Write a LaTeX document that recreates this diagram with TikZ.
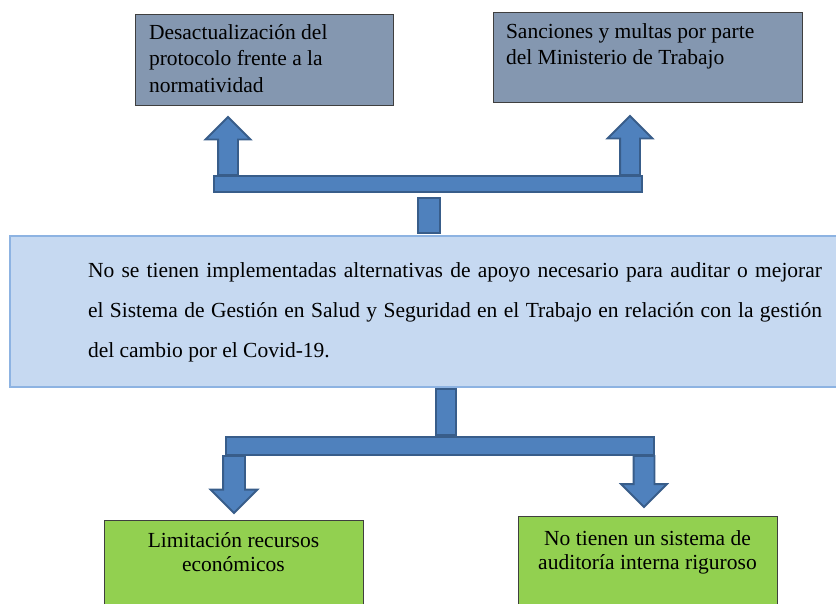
\documentclass[tikz,border=0pt]{standalone}
\usepackage{fontspec}
\setmainfont{Liberation Serif}
\usetikzlibrary{shapes.arrows}

\definecolor{arrowfill}{HTML}{4F81BD}
\definecolor{arrowline}{HTML}{385D8A}
\definecolor{causefill}{HTML}{8497B0}
\definecolor{mainfill}{HTML}{C6D9F1}
\definecolor{mainline}{HTML}{8DB3E2}
\definecolor{effectfill}{HTML}{92D050}
\definecolor{boxline}{HTML}{3F3F3F}

% text of a box: width, height, first baseline, text
\newcommand{\boxtext}[4]{\parbox[t][#2][t]{#1}{\hyphenpenalty=10000
    \exhyphenpenalty=10000 \rule{0pt}{#3}#4}}

\begin{document}
\begin{tikzpicture}[x=1pt, y=-1pt,
    every node/.style={font=\fontsize{21.5}{26.5}\selectfont, inner sep=0pt,
        outer sep=0pt},
    causebox/.style={draw=boxline, fill=causefill, line width=0.9pt,
        anchor=north west},
    mainbox/.style={draw=mainline, fill=mainfill, line width=1.4pt,
        anchor=north west, font=\fontsize{21.5}{40}\selectfont},
    effectbox/.style={draw=boxline, fill=effectfill, line width=0.9pt,
        anchor=north west, font=\fontsize{21.5}{24}\selectfont},
    bar/.style={draw=arrowline, fill=arrowfill, line width=1.8pt},
    blockarrow/.style={single arrow, draw=arrowline, fill=arrowfill,
        line width=1.8pt, single arrow head extend=12.5pt,
        single arrow head indent=0pt, anchor=tail},
]
\clip (0,0) rectangle (836,603);

% Top row: consequences
\node[causebox, inner xsep=14pt] (desact) at (135,14)
    {\boxtext{230pt}{91pt}{25pt}{Desactualización del\\protocolo frente a la\\normatividad}};
\node[causebox, inner xsep=13pt] (sanc) at (493,12)
    {\boxtext{283pt}{90pt}{26pt}{Sanciones y multas por parte\\del Ministerio de Trabajo}};

% Central problem
\node[mainbox] (problem) at (10,236)
    {\boxtext{830pt}{151pt}{41pt}{\leftskip=78pt \rightskip=18pt
    No se tienen implementadas alternativas de apoyo necesario para auditar o mejorar\linebreak
    el Sistema de Gestión en Salud y Seguridad en el Trabajo en relación con la gestión\linebreak
    del cambio por el Covid-19.}};

% Bottom row: causes
\node[effectbox] (recursos) at (104,520)
    {\boxtext{259pt}{90pt}{27pt}{\centering Limitación recursos\\económicos}};
\node[effectbox] (auditoria) at (518,516)
    {\boxtext{259pt}{94pt}{29pt}{\centering No tienen un sistema de\\auditoría interna riguroso}};

% Block arrows up
\node[blockarrow, shape border rotate=90, inner sep=9pt, minimum height=58pt]
    (updesact) at (228,175) {};
\node[blockarrow, shape border rotate=90, inner sep=9pt, minimum height=59pt]
    (upsanc) at (630,175) {};

% Block arrows down
\node[blockarrow, shape border rotate=270, inner sep=10pt, minimum height=57pt]
    (downrec) at (234,456) {};
\node[blockarrow, shape border rotate=270, inner sep=9.5pt, minimum height=51pt]
    (downaud) at (644,456) {};

% Bars and stems
\node[bar, minimum width=428pt, minimum height=16pt] (bartop) at (428,184) {};
\node[bar, minimum width=22pt, minimum height=35pt] (stemtop) at (429,215.5) {};
\node[bar, minimum width=20pt, minimum height=46pt] (stembot) at (446,412) {};
\node[bar, minimum width=428pt, minimum height=18pt] (barbot) at (440,446) {};

\end{tikzpicture}
\end{document}
